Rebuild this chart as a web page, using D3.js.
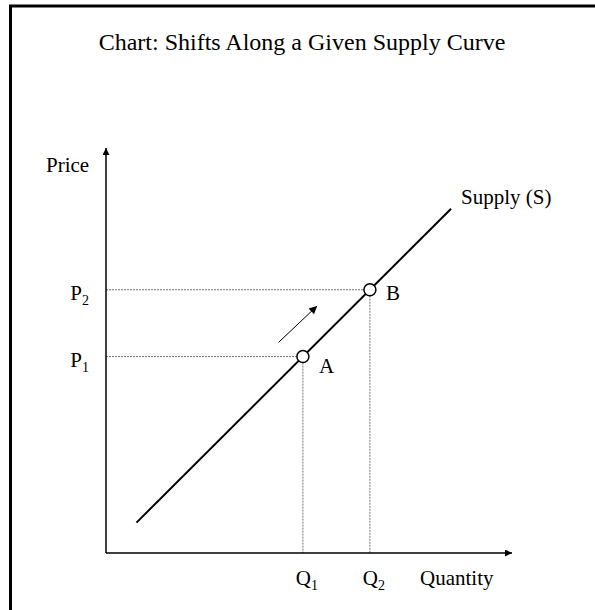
<!DOCTYPE html>
<html>
<head>
<meta charset="utf-8">
<script src="https://cdn.jsdelivr.net/npm/d3@7"></script>
<style>
  body { margin: 0; background: #fff; }
  text { font-family: "Liberation Serif", "Times New Roman", serif; fill: #000; }
</style>
</head>
<body>
<div id="chart"></div>
<script>
// Chart values (quantity / price units, axis domain 0..10)
var quantityLevels = [4.85, 6.5];      // Q1, Q2
var priceLevels = [4.85, 6.5];         // P1, P2
var levelSubs = ["1", "2"];
var pointNames = ["A", "B"];
var supplyEnds = [[0.75, 0.75], [8.5, 8.5]];
var moveArrow = [[4.25, 5.2], [5.2, 6.1]];
var axisMax = 10;

var svgWidth = 595;
var svgHeight = 610;

var svg = d3.select("#chart")
  .append("svg")
  .attr("width", svgWidth)
  .attr("height", svgHeight);

// arrowhead markers
var defs = svg.append("defs");
function addArrow(id, w, h) {
  defs.append("marker")
    .attr("id", id)
    .attr("viewBox", "0 0 10 10")
    .attr("refX", 10)
    .attr("refY", 5)
    .attr("markerWidth", w)
    .attr("markerHeight", h)
    .attr("markerUnits", "userSpaceOnUse")
    .attr("orient", "auto")
    .append("path")
    .attr("d", "M0,0 L10,5 L0,10 z")
    .attr("fill", "#000");
}
addArrow("axisHead", 9, 7);
addArrow("moveHead", 10, 8);

// frame (top and left edges)
svg.append("path")
  .attr("d", "M10.5," + svgHeight + " L10.5,6 L" + svgWidth + ",6")
  .attr("fill", "none")
  .attr("stroke", "#000")
  .attr("stroke-width", 3);

// title
svg.append("text")
  .attr("x", 302)
  .attr("y", 50)
  .attr("text-anchor", "middle")
  .style("font-size", "24px")
  .text("Chart: Shifts Along a Given Supply Curve");

// scales
var x = d3.scaleLinear().domain([0, axisMax]).range([106, 512]);
var y = d3.scaleLinear().domain([0, axisMax]).range([553, 148]);

// guide lines
quantityLevels.forEach(function(q, i) {
  var p = priceLevels[i];
  svg.append("line")
    .attr("x1", x(0)).attr("y1", y(p))
    .attr("x2", x(q)).attr("y2", y(p))
    .attr("stroke", "#777")
    .attr("stroke-width", 1)
    .attr("stroke-dasharray", "2,1");
  svg.append("line")
    .attr("x1", x(q)).attr("y1", y(p))
    .attr("x2", x(q)).attr("y2", y(0))
    .attr("stroke", "#777")
    .attr("stroke-width", 1)
    .attr("stroke-dasharray", "2,1");
});

// axes
svg.append("line")
  .attr("x1", x(0)).attr("y1", y(0))
  .attr("x2", x(0)).attr("y2", y(axisMax))
  .attr("stroke", "#000")
  .attr("stroke-width", 1.5)
  .attr("marker-end", "url(#axisHead)");

svg.append("line")
  .attr("x1", x(0)).attr("y1", y(0))
  .attr("x2", x(axisMax)).attr("y2", y(0))
  .attr("stroke", "#000")
  .attr("stroke-width", 1.5)
  .attr("marker-end", "url(#axisHead)");

// axis titles
svg.append("text")
  .attr("x", 46)
  .attr("y", 172)
  .style("font-size", "21px")
  .text("Price");

svg.append("text")
  .attr("x", 420)
  .attr("y", 585)
  .style("font-size", "21px")
  .text("Quantity");

// P labels
priceLevels.forEach(function(p, i) {
  var t = svg.append("text")
    .attr("x", 89)
    .attr("y", y(p) + 10)
    .attr("text-anchor", "end")
    .style("font-size", "21px");
  t.append("tspan").text("P");
  t.append("tspan").attr("dy", 5).style("font-size", "14px").text(levelSubs[i]);
});

// Q labels
quantityLevels.forEach(function(q, i) {
  var t = svg.append("text")
    .attr("x", x(q) + 4)
    .attr("y", 585)
    .attr("text-anchor", "middle")
    .style("font-size", "21px");
  t.append("tspan").text("Q");
  t.append("tspan").attr("dy", 5).style("font-size", "14px").text(levelSubs[i]);
});

// supply curve
var line = d3.line()
  .x(function(d) { return x(d[0]); })
  .y(function(d) { return y(d[1]); });

svg.append("path")
  .datum(supplyEnds)
  .attr("d", line)
  .attr("fill", "none")
  .attr("stroke", "#000")
  .attr("stroke-width", 2);

svg.append("text")
  .attr("x", x(supplyEnds[1][0]) + 10)
  .attr("y", 204)
  .style("font-size", "21px")
  .text("Supply (S)");

// movement arrow
svg.append("path")
  .datum(moveArrow)
  .attr("d", line)
  .attr("fill", "none")
  .attr("stroke", "#000")
  .attr("stroke-width", 1)
  .attr("marker-end", "url(#moveHead)");

// points A and B
svg.selectAll("circle")
  .data(quantityLevels)
  .enter()
  .append("circle")
  .attr("cx", function(d) { return x(d); })
  .attr("cy", function(d, i) { return y(priceLevels[i]); })
  .attr("r", 6)
  .attr("fill", "#fff")
  .attr("stroke", "#000")
  .attr("stroke-width", 1.5);

svg.selectAll(".ptLabel")
  .data(quantityLevels)
  .enter()
  .append("text")
  .attr("class", "ptLabel")
  .attr("x", function(d) { return x(d) + 16; })
  .attr("y", function(d, i) { return y(priceLevels[i]) + (i === 0 ? 16 : 10); })
  .style("font-size", "21px")
  .text(function(d, i) { return pointNames[i]; });
</script>
</body>
</html>
